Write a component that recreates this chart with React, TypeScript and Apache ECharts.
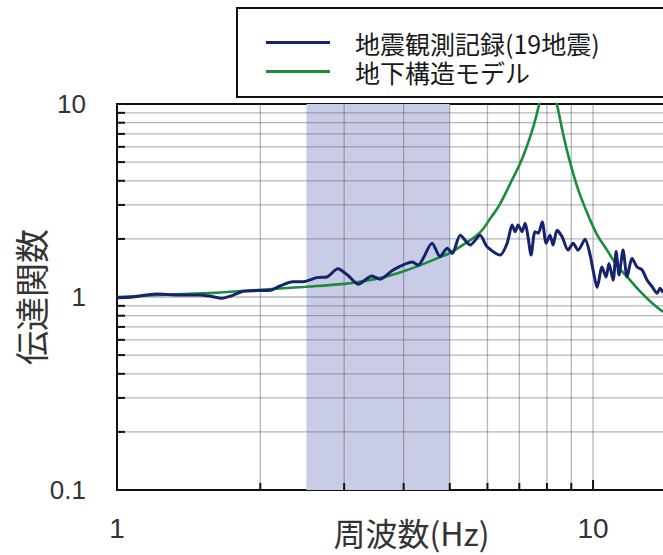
import React, { useEffect, useRef } from "react";
import * as echarts from "echarts";

// 地震観測記録 (observed transfer function)
const observedFreq = [
  1.0, 1.08, 1.21, 1.34, 1.49, 1.57, 1.66, 1.75, 1.84, 1.97, 2.1, 2.2, 2.34, 2.46, 2.63, 2.76,
  2.91, 3.05, 3.21, 3.43, 3.57, 3.8, 4.17, 4.29, 4.59, 4.77, 4.94, 5.06, 5.26, 5.52, 5.79, 5.99,
  6.38, 6.6, 6.76, 6.86, 6.96, 7.09, 7.2, 7.3, 7.41, 7.55, 7.67, 7.82, 7.97, 8.12, 8.24, 8.4,
  8.61, 8.86, 9.08, 9.3, 9.62, 9.86, 10.0, 10.2, 10.44, 10.65, 10.8, 11.02, 11.18, 11.34, 11.56,
  11.79, 12.07, 12.37, 12.68, 12.99, 13.31, 13.63, 13.83, 14.03,
];
const observedValue = [
  0.99, 1.0, 1.035, 1.025, 1.025, 1.01, 0.985, 1.02, 1.07, 1.08, 1.085, 1.14, 1.2, 1.2, 1.26, 1.27,
  1.4, 1.3, 1.165, 1.285, 1.235, 1.38, 1.52, 1.465, 1.9, 1.62, 1.79, 1.68, 2.09, 1.86, 2.09, 1.82,
  1.65, 1.9, 2.36, 2.18, 2.36, 2.18, 2.41, 2.05, 1.65, 2.18, 2.14, 2.45, 1.9, 2.09, 1.86, 2.22,
  2.05, 1.75, 1.9, 1.75, 1.99, 1.65, 1.38, 1.12, 1.43, 1.27, 1.49, 1.22, 1.72, 1.3, 1.75,
  1.27, 1.59, 1.43, 1.38, 1.22, 1.13, 1.045, 1.11, 1.05,
];

// 地下構造モデル (model transfer function)
const modelFreq = [
  1.0, 1.3, 1.6, 2.0, 2.5, 3.0, 3.3, 3.6, 3.93, 4.3, 4.77, 5.0, 5.4, 5.79, 6.1, 6.36, 6.79, 7.05,
  7.27, 7.5, 7.7, 7.85, 8.0, 8.15, 8.4, 8.6, 8.83, 9.1, 9.39, 9.8, 10.2, 10.7, 11.2, 11.9, 12.6,
  13.3, 14.03,
];
const modelValue = [
  1.0, 1.03, 1.05, 1.09, 1.13, 1.17, 1.21, 1.26, 1.34, 1.45, 1.61, 1.69, 1.9, 2.16, 2.58, 3.0, 4.14,
  5.0, 6.1, 7.7, 9.9, 12.5, 15, 13, 9.9, 7.5, 5.65, 4.3, 3.38, 2.6, 2.1, 1.75, 1.47, 1.24, 1.06,
  0.93, 0.836,
];

// Highlighted frequency band (Hz)
const bandRange = [2.5, 5];

// Grid lines and tick labels
const xGridFreq = [2, 3, 4, 5, 6, 7, 8, 9, 10];
const yGridValue = [0.2, 0.3, 0.4, 0.5, 0.6, 0.7, 0.8, 0.9, 1, 2, 3, 4, 5, 6, 7, 8, 9];
const xTickLabels = ["1", "10"];
const yTickLabels = ["0.1", "1", "10"];

const seriesNames = ["地震観測記録(19地震)", "地下構造モデル"];

const NUM_FONT = "'Liberation Sans', 'Noto Sans CJK JP', sans-serif";
const JP_FONT = "'Noto Sans CJK JP', sans-serif";

function fmt(v: number): string {
  const r = Math.round(v * 1000) / 1000;
  return String(r);
}

export default function App() {
  const ref = useRef<HTMLDivElement>(null);

  useEffect(() => {
    document.body.style.margin = "0";
    if (!ref.current) return;
    const chart = echarts.init(ref.current, null, { renderer: "svg" });

    const observed = observedFreq.map((f, i) => [f, observedValue[i]]);
    const model = modelFreq.map((f, i) => [f, modelValue[i]]);
    const gridData = [
      ...xGridFreq.map((v) => [v, 1, 0]),
      ...yGridValue.map((v) => [1, v, 1]),
    ];

    const option: any = {
      animation: false,
      backgroundColor: "#ffffff",
      graphic: [
        {
          type: "rect",
          z: 0,
          shape: { x: 237, y: 8, width: 460, height: 89 },
          style: { fill: "#ffffff", stroke: "#111111", lineWidth: 2 },
        },
      ],
      legend: {
        z: 10,
        data: seriesNames,
        orient: "vertical",
        left: 266,
        top: 30,
        padding: 0,
        itemGap: 4,
        itemWidth: 64,
        itemHeight: 3,
        icon: "rect",
        textStyle: {
          fontFamily: JP_FONT,
          fontSize: 25,
          color: "#1a1a1a",
          lineHeight: 24,
          padding: [0, 0, 0, 20],
        },
      },
      grid: {
        left: 117,
        top: 104,
        right: -3,
        bottom: 65,
        outerBoundsMode: "none",
        containLabel: false,
        show: true,
        borderColor: "#111111",
        borderWidth: 2,
        backgroundColor: "transparent",
      },
      xAxis: {
        type: "log",
        logBase: 10,
        min: 1,
        max: 14.23,
        name: "周波数(Hz)",
        nameLocation: "middle",
        nameGap: 24,
        nameMoveOverlap: false,
        nameTextStyle: {
          fontFamily: JP_FONT,
          fontSize: 32,
          lineHeight: 36,
          color: "#333333",
          padding: [0, 0, 0, 40],
        },
        axisLine: { show: true, lineStyle: { color: "#111111", width: 2 } },
        axisTick: { show: false },
        splitLine: { show: false },
        axisLabel: {
          margin: 24,
          fontFamily: NUM_FONT,
          fontSize: 28,
          color: "#333333",
          formatter: (v: number) => (xTickLabels.includes(fmt(v)) ? fmt(v) : ""),
        },
      },
      yAxis: {
        type: "log",
        logBase: 10,
        min: 0.1,
        max: 10,
        name: "伝達関数",
        nameLocation: "middle",
        nameGap: 69,
        nameRotate: 90,
        nameMoveOverlap: false,
        nameTextStyle: {
          fontFamily: JP_FONT,
          fontSize: 34,
          lineHeight: 36,
          color: "#333333",
        },
        axisLine: { show: true, lineStyle: { color: "#111111", width: 2 } },
        axisTick: { show: false },
        splitLine: { show: false },
        axisLabel: {
          margin: 31,
          fontFamily: NUM_FONT,
          fontSize: 26,
          color: "#333333",
          formatter: (v: number) => (yTickLabels.includes(fmt(v)) ? fmt(v) : ""),
        },
      },
      series: [
        {
          name: "band",
          type: "custom",
          z: 1,
          silent: true,
          data: [[bandRange[0], bandRange[1]]],
          renderItem: (params: any, api: any) => {
            const cs = params.coordSys;
            const x1 = api.coord([api.value(0), 1])[0];
            const x2 = api.coord([api.value(1), 1])[0];
            return {
              type: "rect",
              shape: { x: x1, y: cs.y, width: x2 - x1, height: cs.height },
              style: { fill: "#c9cce6" },
            };
          },
        },
        {
          name: "gridlines",
          type: "custom",
          z: 2,
          silent: true,
          data: gridData,
          renderItem: (params: any, api: any) => {
            const cs = params.coordSys;
            const kind = api.value(2);
            if (kind === 0) {
              const v = api.value(0);
              const x = api.coord([v, 1])[0];
              const bottom = cs.y + cs.height;
              return {
                type: "group",
                children: [
                  {
                    type: "line",
                    shape: { x1: x, y1: cs.y, x2: x, y2: bottom },
                    style: { stroke: "rgba(80,80,90,0.42)", lineWidth: 1.3 },
                  },
                  {
                    type: "line",
                    shape: { x1: x, y1: bottom, x2: x, y2: bottom - (Math.abs(v - 10) < 1e-6 ? 10 : 7) },
                    style: { stroke: "#111111", lineWidth: 2 },
                  },
                ],
              };
            }
            const y = api.coord([1, api.value(1)])[1];
            return {
              type: "group",
              children: [
                {
                  type: "line",
                  shape: { x1: cs.x, y1: y, x2: cs.x + cs.width, y2: y },
                  style: { stroke: "rgba(80,80,90,0.42)", lineWidth: 1.3 },
                },
                {
                  type: "line",
                  shape: { x1: cs.x, y1: y, x2: cs.x + 8, y2: y },
                  style: { stroke: "#111111", lineWidth: 2 },
                },
              ],
            };
          },
        },
        {
          name: seriesNames[1],
          type: "line",
          z: 3,
          data: model,
          symbol: "none",
          smooth: 0.4,
          clip: true,
          lineStyle: { color: "#1b8c3c", width: 2.6 },
          itemStyle: { color: "#1b8c3c" },
        },
        {
          name: seriesNames[0],
          type: "line",
          z: 4,
          data: observed,
          symbol: "none",
          smooth: 0.25,
          clip: true,
          lineStyle: { color: "#16246e", width: 3, join: "round" },
          itemStyle: { color: "#16246e" },
        },
      ],
    };

    chart.setOption(option);
    return () => {
      chart.dispose();
    };
  }, []);

  return <div ref={ref} style={{ width: 663, height: 555 }} />;
}
